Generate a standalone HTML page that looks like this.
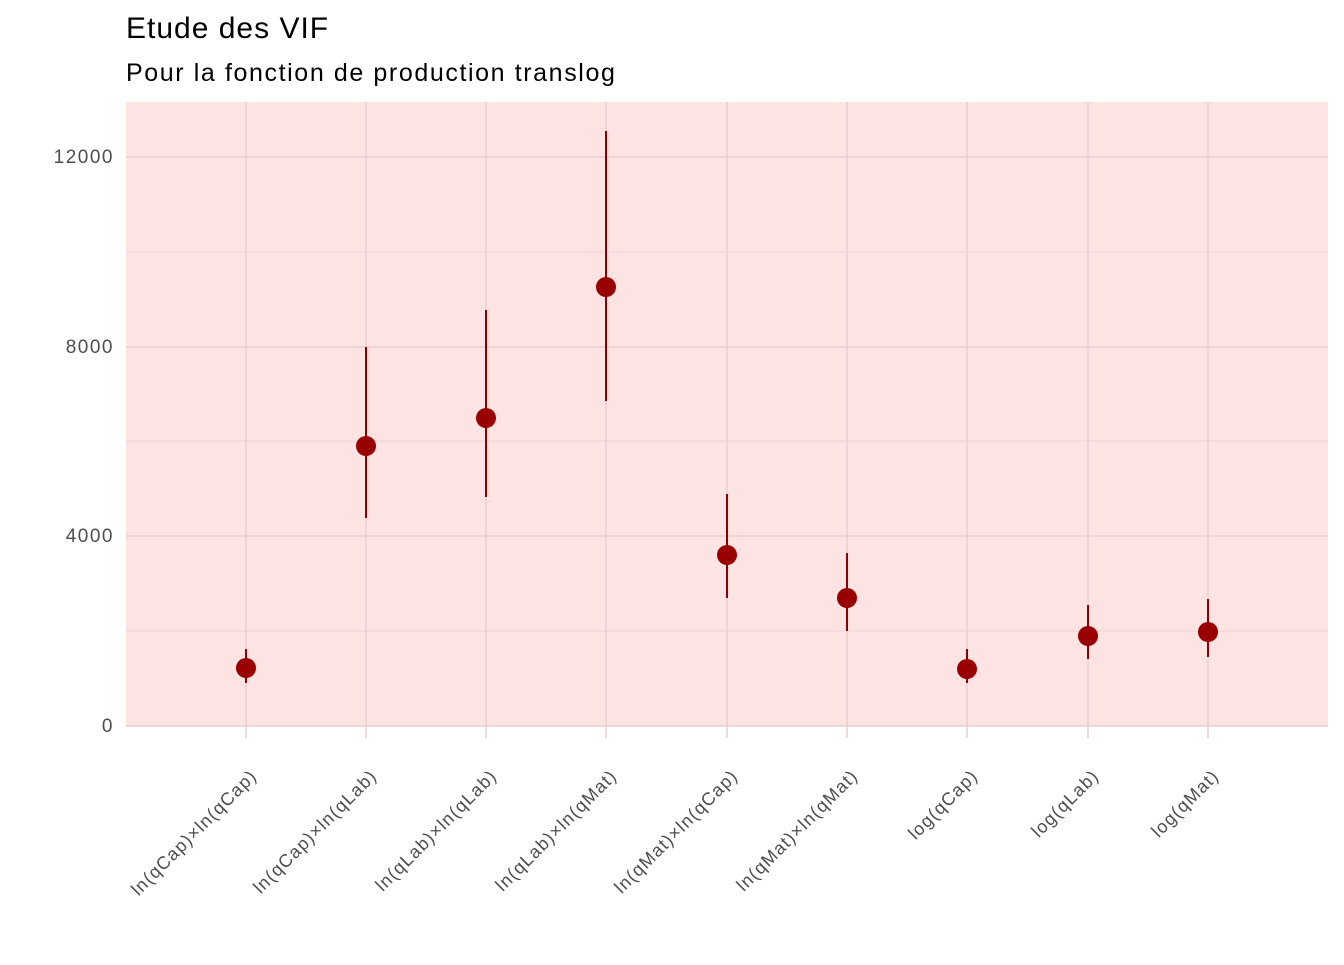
<!DOCTYPE html>
<html><head><meta charset="utf-8"><style>
body{margin:0;background:#fff;}
svg text{font-family:"Liberation Sans","DejaVu Sans",sans-serif;}
</style></head><body>
<svg width="1344" height="960" xmlns="http://www.w3.org/2000/svg">
<rect x="126" y="102" width="1202" height="624" fill="#fde3e2"/>
<g stroke="#edd6d7" stroke-width="1">
<line x1="126" x2="1328" y1="252" y2="252"/>
<line x1="126" x2="1328" y1="441" y2="441"/>
<line x1="126" x2="1328" y1="631" y2="631"/>
</g>
<g stroke="#e8cfd1" stroke-width="1.5">
<line x1="126" x2="1328" y1="157" y2="157"/>
<line x1="126" x2="1328" y1="347" y2="347"/>
<line x1="126" x2="1328" y1="536" y2="536"/>
<line x1="126" x2="1328" y1="726" y2="726"/>
<line x1="246" x2="246" y1="102" y2="738"/>
<line x1="366" x2="366" y1="102" y2="738"/>
<line x1="486" x2="486" y1="102" y2="738"/>
<line x1="606" x2="606" y1="102" y2="738"/>
<line x1="727" x2="727" y1="102" y2="738"/>
<line x1="847" x2="847" y1="102" y2="738"/>
<line x1="967" x2="967" y1="102" y2="738"/>
<line x1="1088" x2="1088" y1="102" y2="738"/>
<line x1="1208" x2="1208" y1="102" y2="738"/>
</g>
<g stroke="#8b0000" stroke-width="2">
<line x1="246" x2="246" y1="649" y2="683"/>
<line x1="366" x2="366" y1="347" y2="518"/>
<line x1="486" x2="486" y1="310" y2="497"/>
<line x1="606" x2="606" y1="131" y2="401"/>
<line x1="727" x2="727" y1="494" y2="598"/>
<line x1="847" x2="847" y1="553" y2="631"/>
<line x1="967" x2="967" y1="649" y2="683"/>
<line x1="1088" x2="1088" y1="605" y2="659"/>
<line x1="1208" x2="1208" y1="599" y2="657"/>
</g>
<g fill="#990000">
<circle cx="246" cy="668" r="10"/>
<circle cx="366" cy="446" r="10"/>
<circle cx="486" cy="418" r="10"/>
<circle cx="606" cy="287" r="10"/>
<circle cx="727" cy="555" r="10"/>
<circle cx="847" cy="598" r="10"/>
<circle cx="967" cy="669" r="10"/>
<circle cx="1088" cy="636" r="10"/>
<circle cx="1208" cy="632" r="10"/>
</g>
<g font-size="19" fill="#4d4d4d" text-anchor="end" letter-spacing="1.5">
<text x="114" y="163">12000</text>
<text x="114" y="353">8000</text>
<text x="114" y="542">4000</text>
<text x="114" y="732">0</text>
</g>
<g font-size="18" fill="#4d4d4d" text-anchor="end" letter-spacing="1.2">
<text transform="translate(258,777) rotate(-45)">ln(qCap)×ln(qCap)</text>
<text transform="translate(378,777) rotate(-45)">ln(qCap)×ln(qLab)</text>
<text transform="translate(498,777) rotate(-45)">ln(qLab)×ln(qLab)</text>
<text transform="translate(618,777) rotate(-45)">ln(qLab)×ln(qMat)</text>
<text transform="translate(739,777) rotate(-45)">ln(qMat)×ln(qCap)</text>
<text transform="translate(859,777) rotate(-45)">ln(qMat)×ln(qMat)</text>
<text transform="translate(979,777) rotate(-45)">log(qCap)</text>
<text transform="translate(1100,777) rotate(-45)">log(qLab)</text>
<text transform="translate(1220,777) rotate(-45)">log(qMat)</text>
</g>
<text x="126" y="38" font-size="30" fill="#000" letter-spacing="1">Etude des VIF</text>
<text x="126" y="81" font-size="25" fill="#000" letter-spacing="1.6">Pour la fonction de production translog</text>
</svg>
</body></html>
